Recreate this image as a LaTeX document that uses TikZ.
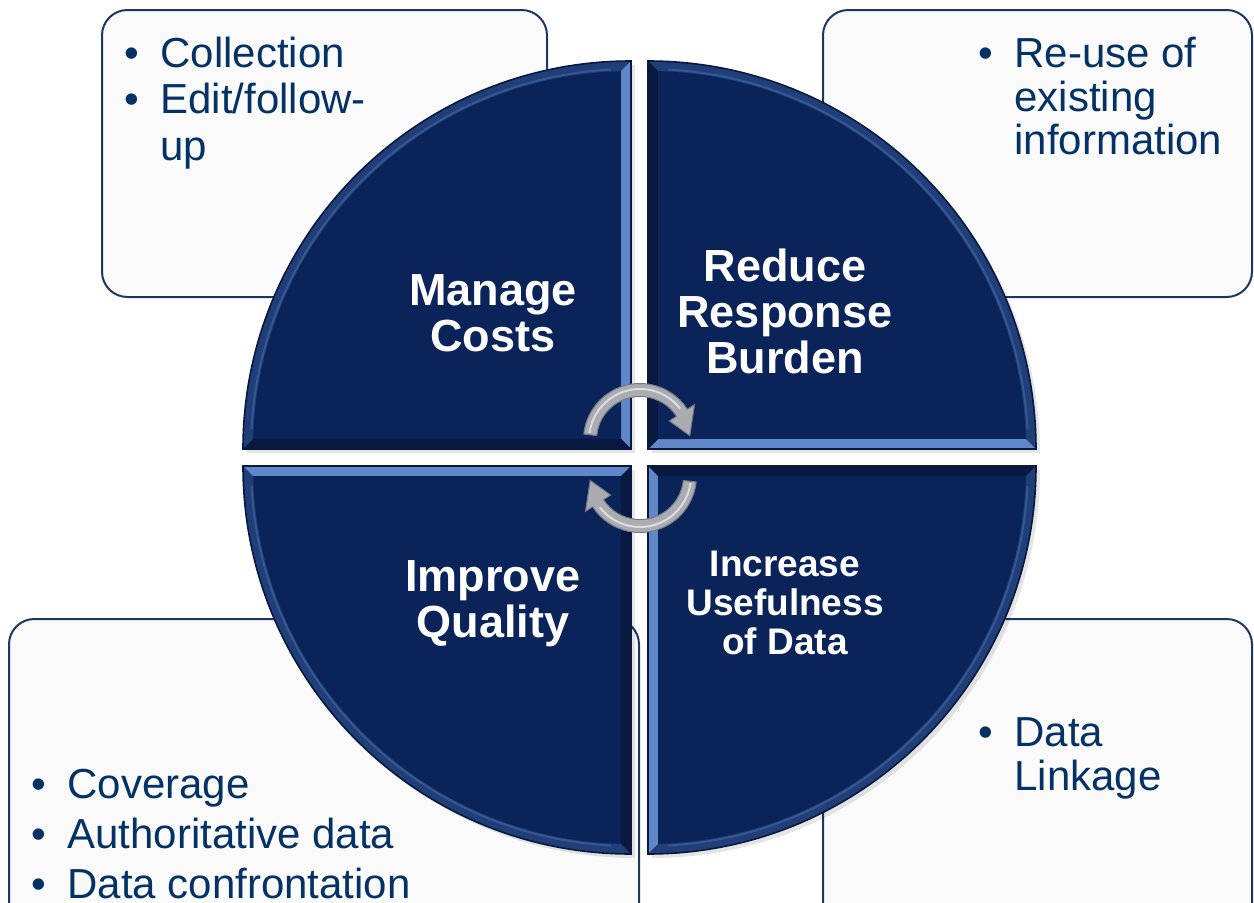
\documentclass[tikz,border=0pt]{standalone}
\usepackage{fontspec}
\setmainfont{Liberation Sans}

\definecolor{navyface}{RGB}{10,36,90}
\definecolor{navyedge}{RGB}{8,24,62}
\definecolor{bevelmid}{RGB}{32,62,120}
\definecolor{bevellight}{RGB}{96,136,200}
\definecolor{bulletblue}{RGB}{4,50,100}
\definecolor{boxline}{RGB}{30,54,98}
\definecolor{arrowgrey}{RGB}{170,172,178}
\definecolor{arrowedge}{RGB}{118,120,128}

\tikzset{every picture/.style={line width=0.75pt}}
\tikzset{
  infobox/.style={draw=boxline, line width=1.5pt, fill=black!2, rounded corners=19pt},
  bulletlist/.style={text=bulletblue, font=\fontsize{31.5}{#1}\selectfont, anchor=base west, inner sep=0pt},
  bulletlist/.default=35,
  quadtitle/.style={text=white, font=\bfseries\fontsize{33.75}{34.5}\selectfont, align=center, inner sep=0pt},
  turnarrow/.style={fill=arrowgrey, draw=arrowedge, line width=0.75pt},
}

\begin{document}
\begin{tikzpicture}[x=0.75pt,y=0.75pt,yscale=-1]
	\clip (0,0) rectangle (1254,903);

	%Shape: Rounded boxes behind the wheel
	\draw[infobox] (102,10) rectangle (547,297);
	\draw[infobox] (823,10) rectangle (1252,297);
	\draw[infobox] (9,619) rectangle (639,940);
	\draw[infobox] (823,619) rectangle (1252,940);

	%Shape: Shadows of the four quarters
	\foreach \r in {0,90,180,270}{
		\begin{scope}[shift={(4,4)}, rotate around={\r:(639.5,457.5)}]
			\fill[black, opacity=0.10] (631,449) -- (243,449) arc[start angle=180, end angle=270, radius=388] -- cycle;
		\end{scope}
	}

	%Shape: Four bevelled quarters
	\foreach \r in {0,90,180,270}{
		\begin{scope}[rotate around={\r:(639.5,457.5)}]
			% arc bevel
			\fill[bevelmid] (631,449) -- (243,449) arc[start angle=180, end angle=270, radius=388] -- cycle;
			% lit edge
			\fill[bevellight] (631,449) -- (631,61) -- (621,71.13) -- (621,439) -- cycle;
			% shaded edge
			\fill[navyedge] (631,449) -- (243,449) -- (253.13,439) -- (621,439) -- cycle;
			% face
			\fill[navyface] (621,439) -- (253.13,439) arc[start angle=181.52, end angle=268.48, radius=378] -- cycle;
			\draw[bevellight, opacity=0.35, line width=1.5pt] (631,449) ++(183:380) arc[start angle=183, end angle=267, radius=380];
			\draw[navyedge, line width=1.2pt] (631,449) -- (243,449) arc[start angle=180, end angle=270, radius=388] -- cycle;
		\end{scope}
	}

	%Curve Lines: upper turning arrow
	\begin{scope}[shift={(640,440)}]
		\filldraw[turnarrow] (186:43.5) arc[start angle=186, end angle=327, radius=43.5] -- (327:35) -- (355:50) -- (327:65) -- (327:56.5) arc[start angle=327, end angle=186, radius=56.5] -- cycle;
		\draw[white, opacity=0.6, line width=1.5pt] (188:51) arc[start angle=188, end angle=322, radius=51];
	\end{scope}
	%Curve Lines: lower turning arrow
	\begin{scope}[shift={(640,476)}]
		\filldraw[turnarrow] (6:43.5) arc[start angle=6, end angle=147, radius=43.5] -- (147:35) -- (175:50) -- (147:65) -- (147:56.5) arc[start angle=147, end angle=6, radius=56.5] -- cycle;
		\draw[white, opacity=0.6, line width=1.5pt] (8:51) arc[start angle=8, end angle=142, radius=51];
	\end{scope}

	% Text Node
	\node[quadtitle] (costs) at (493,313) {Manage\\Costs};
	% Text Node
	\node[quadtitle] (burden) at (785,311) {Reduce\\Response\\Burden};
	% Text Node
	\node[quadtitle] (quality) at (493,604) {Improve\\Quality};
	% Text Node
	\node[quadtitle, font=\bfseries\fontsize{27.75}{29}\selectfont] (usefulness) at (785,603) {Increase\\Usefulness\\of Data};

	% Text Node
	\node[bulletlist] (costitems) at (124,67) {\begin{tabular}[t]{@{}l@{\hspace{16pt}}l@{}}\textbullet & Collection\\ \textbullet & Edit/follow-\\ & up\end{tabular}};
	% Text Node
	\node[bulletlist=33] (burdenitems) at (978,67) {\begin{tabular}[t]{@{}l@{\hspace{16pt}}l@{}}\textbullet & Re-use of\\ & existing\\ & information\end{tabular}};
	% Text Node
	\node[bulletlist=37.5] (qualityitems) at (31,798) {\begin{tabular}[t]{@{}l@{\hspace{16pt}}l@{}}\textbullet & Coverage\\ \textbullet & Authoritative data\\ \textbullet & Data confrontation\end{tabular}};
	% Text Node
	\node[bulletlist=33.5] (usefulnessitems) at (978,746) {\begin{tabular}[t]{@{}l@{\hspace{16pt}}l@{}}\textbullet & Data\\ & Linkage\end{tabular}};

\end{tikzpicture}
\end{document}
